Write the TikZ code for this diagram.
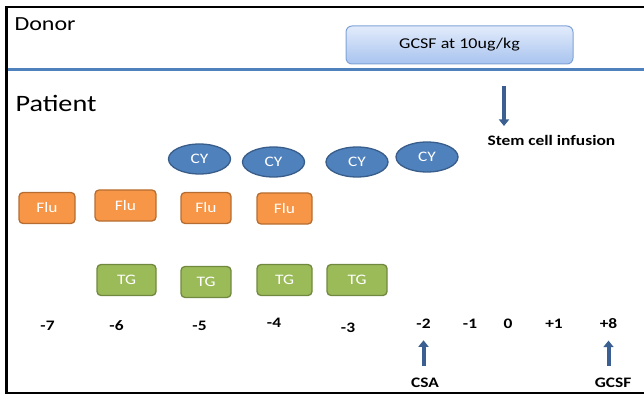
\documentclass[tikz,border=0pt]{standalone}
\usepackage{fontspec}
\setmainfont{Carlito}[FakeStretch=1.2]
\usepackage{xcolor}
\usetikzlibrary{positioning,shapes.geometric,arrows.meta}

\definecolor{cyfill}{HTML}{4F81BD}
\definecolor{cyline}{HTML}{385D8A}
\definecolor{flufill}{HTML}{F79646}
\definecolor{fluline}{HTML}{B66D31}
\definecolor{tgfill}{HTML}{9BBB59}
\definecolor{tgline}{HTML}{71893F}
\definecolor{gcsftop}{HTML}{E2EBFB}
\definecolor{gcsfbot}{HTML}{A8C4EF}
\definecolor{gcsfline}{HTML}{7FA3D8}
\definecolor{arrowblue}{HTML}{3A5F90}

\tikzset{
  cy/.style = {ellipse, draw = cyline, fill = cyfill, line width = 1.3pt,
    minimum width = 62pt, minimum height = 30pt, inner sep = 0pt,
    text = white, font = \fontsize{14.5}{14}\selectfont},
  drug/.style = {rectangle, rounded corners = 4pt, line width = 1.3pt,
    minimum height = 31pt, inner sep = 0pt,
    text = white, font = \fontsize{14.5}{14}\selectfont},
  flu/.style = {drug, draw = fluline, fill = flufill},
  tg/.style = {drug, draw = tgline, fill = tgfill},
  day/.style = {font = \bfseries\fontsize{14.5}{14}\selectfont},
  mark arrow/.style = {arrowblue, line width = 4pt,
    -{Triangle[width = 10pt, length = 6.5pt]}},
}

\begin{document}
\begin{tikzpicture}[x = 1pt, y = -1pt]
    \useasboundingbox (0,0) rectangle (644,395);

    \draw[line width = 2.4pt] (644,7) -- (6.5,7) -- (6.5,393) -- (644,393);
    \draw[cyfill, line width = 3pt] (7.5,70) -- (644,70);

    \node[anchor = west, font = \fontsize{20}{20}\selectfont] (donor) at (11,24) {Donor};
    \node[anchor = west, font = \fontsize{23.5}{24}\selectfont] (patient) at (12,103) {Patient};

    \node[rectangle, rounded corners = 6pt, draw = gcsfline, line width = 1pt,
      top color = gcsftop, bottom color = gcsfbot,
      minimum width = 227pt, minimum height = 38pt,
      font = \fontsize{15}{15}\selectfont] (gcsf) at (459.5,45) {GCSF at 10ug/kg};

    \coordinate (infuse) at (504,86);
    \node[below right = 46pt and -20pt of infuse, font = \bfseries\fontsize{14.5}{15}\selectfont] (stem) {Stem cell infusion};

    \node[cy] (cy1) at (199.5,159) {CY};
    \node[cy] (cy2) at (273.5,162) {CY};
    \node[cy] (cy3) at (357,162) {CY};
    \node[cy] (cy4) at (427,157) {CY};

    \node[flu, minimum width = 56pt] (flu1) at (47,208) {Flu};
    \node[flu, minimum width = 61pt] (flu2) at (125.5,205.5) {Flu};
    \node[flu, minimum width = 50pt] (flu3) at (206,208) {Flu};
    \node[flu, minimum width = 55pt] (flu4) at (284.5,208.5) {Flu};

    \node[tg, minimum width = 59pt] (tg1) at (126.5,280) {TG};
    \node[tg, minimum width = 50pt] (tg2) at (206,282) {TG};
    \node[tg, minimum width = 55pt] (tg3) at (284.5,280) {TG};
    \node[tg, minimum width = 60pt] (tg4) at (357,280) {TG};

    \node[day] (dm7) at (47.5,326) {-7};
    \node[day] (dm6) at (116.5,326) {-6};
    \node[day] (dm5) at (199.5,326) {-5};
    \node[day] (dm4) at (274,323) {-4};
    \node[day] (dm3) at (348,328) {-3};
    \node[day] (dm2) at (423.5,324) {-2};
    \node[day] (dm1) at (470,324) {-1};
    \node[day] (d0) at (508,324) {0};
    \node[day] (dp1) at (554,324) {+1};
    \node[day] (dp8) at (608.5,324) {+8};

    \node[day] (csa) at (425,383) {CSA};
    \node[day] (gcsfday) at (613,383) {GCSF};

    \draw[mark arrow, shorten > = 6pt] (infuse) -- (infuse |- stem.north);
    \draw[mark arrow, shorten < = 9pt, shorten > = 8pt] (csa.north -| dm2) -- (dm2.south);
    \draw[mark arrow, shorten < = 9pt, shorten > = 8pt] (gcsfday.north -| dp8) -- (dp8.south);
\end{tikzpicture}
\end{document}
